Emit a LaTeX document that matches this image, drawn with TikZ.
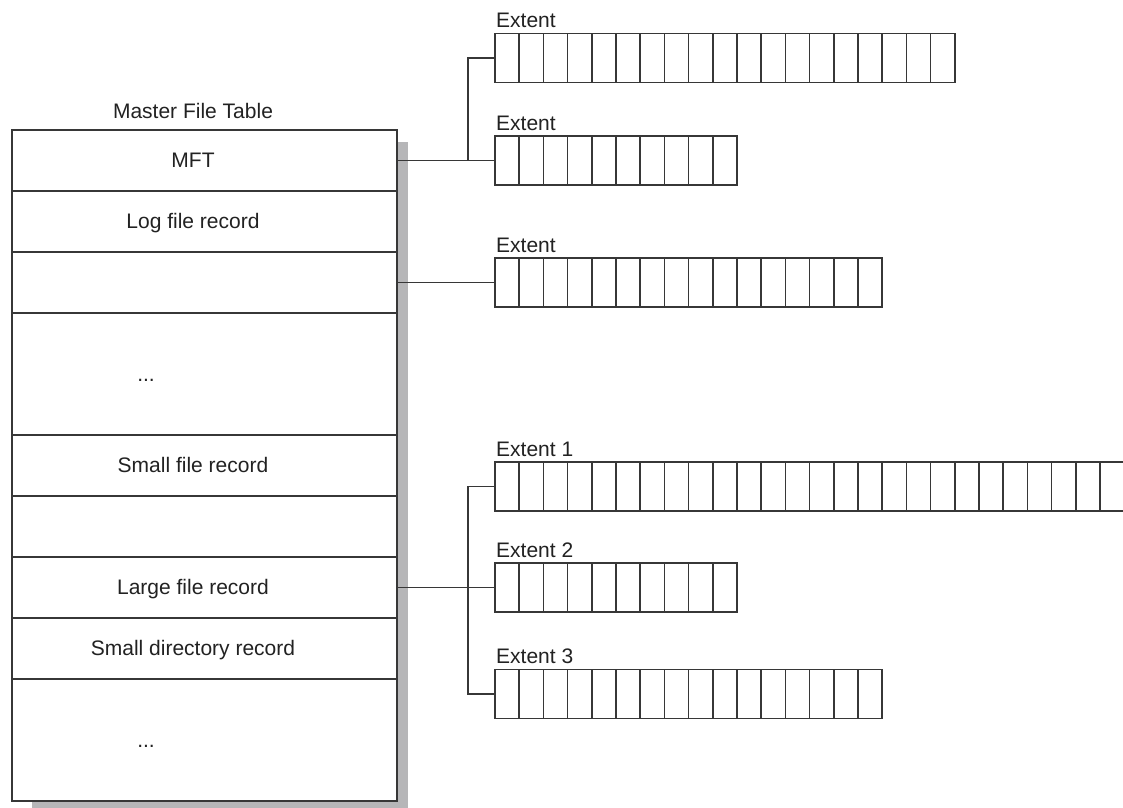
\documentclass[tikz,border=0pt]{standalone}
\usepackage{fontspec}
\setmainfont{Liberation Sans}
\usetikzlibrary{positioning,calc,backgrounds}
\definecolor{mftline}{RGB}{55,55,55}
\definecolor{mftshadow}{RGB}{182,182,184}
\definecolor{mfttext}{RGB}{34,34,34}

\begin{document}
\begin{tikzpicture}[x=1pt,y=-1pt,
  row/.style={draw=mftline,line width=1.6pt,fill=white,outer sep=0pt,inner sep=0pt,minimum width=385pt,minimum height=61pt},
  tallrow/.style={row,minimum height=122pt},
  rowtext/.style={anchor=base,inner sep=0pt,text=mfttext,font=\fontsize{21}{24}\selectfont},
  extent/.style={draw=mftline,line width=1.6pt,fill=white,outer sep=0pt,inner sep=0pt,anchor=west,minimum height=49pt},
  link/.style={draw=mftline,line width=1.5pt}]
  \useasboundingbox (0,0) rectangle (1123,807);
  \clip (0,0) rectangle (1123,807);
  % Master file table
  \node[row] (mft) at (204.5,160.5) {};
  \node[row,below=0pt of mft] (logf) {};
  \node[row,below=0pt of logf] (free1) {};
  \node[tallrow,below=0pt of free1] (dots1) {};
  \node[row,below=0pt of dots1] (small) {};
  \node[row,below=0pt of small] (free2) {};
  \node[row,below=0pt of free2] (large) {};
  \node[row,below=0pt of large] (smalldir) {};
  \node[tallrow,below=0pt of smalldir] (dots2) {};
  \node[rowtext] (title) at ([xshift=-11.5pt,yshift=12pt]mft.north) {Master File Table};
  \foreach \r/\t in {mft/MFT,logf/Log file record,small/Small file record,large/Large file record,smalldir/Small directory record}{
    \node[rowtext] (t-\r) at ([xshift=-11.5pt,yshift=-7pt]\r.center) {\t};
  }
  \node[rowtext] (t-dots1) at ([xshift=-58.5pt,yshift=-7pt]dots1.center) {...};
  \node[rowtext] (t-dots2) at ([xshift=-58.5pt,yshift=-7pt]dots2.center) {...};
  % Shadow
  \begin{scope}[on background layer]
    \fill[white] (0,0) rectangle (1123,807);
    \fill[mftshadow] ([xshift=20pt,yshift=-12pt]dots2.south west) rectangle ([xshift=11pt,yshift=-12pt]mft.north east);
  \end{scope}
  % Extents
  \foreach \name/\lab/\y/\n in {ea/Extent/58/19,eb/Extent/160.5/10,ec/Extent/282.5/16,ed/Extent 1/486.5/26,ee/Extent 2/587.5/10,ef/Extent 3/694/16}{
    \pgfmathsetmacro{\w}{\n*24.2}
    \pgfmathtruncatemacro{\m}{\n-1}
    \node[extent,minimum width=\w pt] (\name) at (495,\y) {};
    \foreach \k in {1,...,\m}{
      \draw[mftline,line width=1.6pt] ([xshift=\k*24.2pt]\name.north west) -- ([xshift=\k*24.2pt]\name.south west);
    }
    \node[rowtext,anchor=base west] (\name-l) at ([xshift=1pt,yshift=6pt]\name.north west) {\lab};
  }
  % Links
  \coordinate (ja) at (468,160.5);
  \coordinate (jb) at (468,587.5);
  \draw[link] (mft.east) -- (eb.west);
  \draw[link] (ja) |- (ea.west);
  \draw[link] (free1.east) -- (ec.west);
  \draw[link] (large.east) -- (ee.west);
  \draw[link] (jb) |- (ed.west);
  \draw[link] (jb) |- (ef.west);
\end{tikzpicture}
\end{document}
